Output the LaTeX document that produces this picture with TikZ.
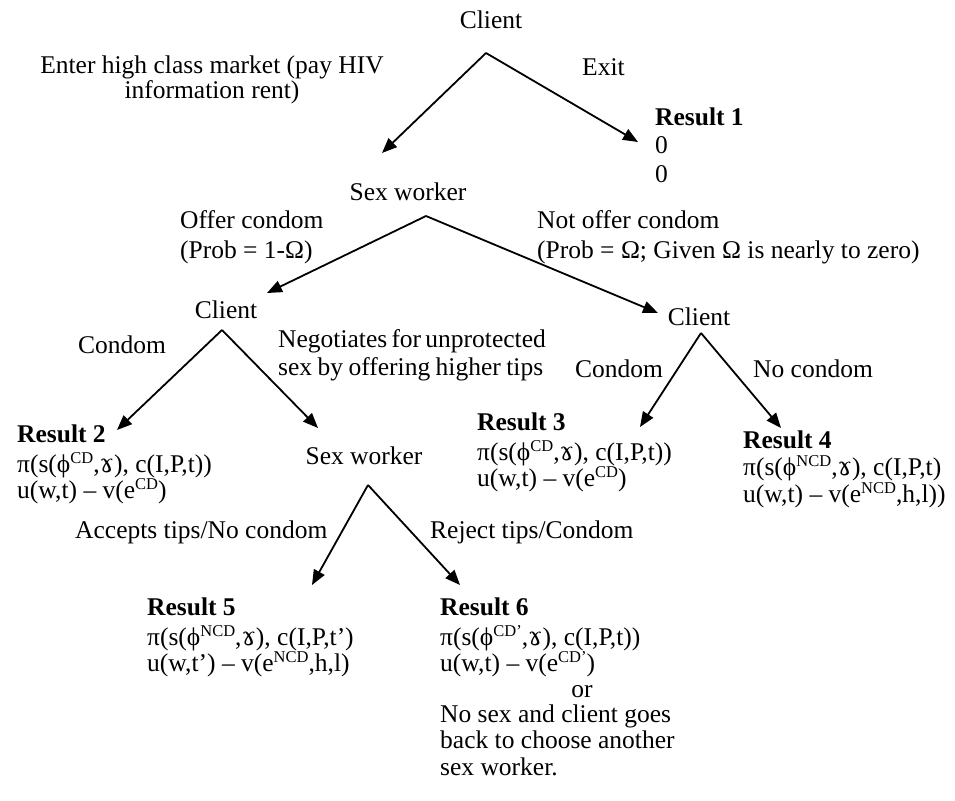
\documentclass[tikz,border=0pt]{standalone}
\usepackage{fontspec}
\setmainfont{Liberation Serif}
\newfontfamily\symfont{DejaVu Serif}
\usetikzlibrary{arrows.meta}

% glyphs used in the payoff formulas
\newcommand{\ph}{ϕ}
\newcommand{\ram}{{\symfont ɤ}}
\newcommand{\sps}[1]{\raisebox{8.5pt}{\fontsize{16.5}{16.5}\selectfont #1}}

\tikzset{
  lbl/.style={inner sep=0pt, anchor=base west, font=\fontsize{25.5}{28}\selectfont},
  lblc/.style={lbl, anchor=base},
  hdr/.style={lbl, font=\fontsize{25.5}{28}\selectfont\bfseries},
  branch/.style={line width=1.8pt, -{Triangle[length=15pt,width=12pt]}},
}

\begin{document}
\begin{tikzpicture}[x=1pt, y=-1pt]
\useasboundingbox (0,0) rectangle (955,800);

% ---- first move: the client
\node[lblc] (c0) at (491,29) {Client};
\node[lblc] (enter1) at (212,74) {Enter high class market (pay HIV};
\node[lblc] (enter2) at (212,98) {information rent)};
\node[lbl] (exit) at (582,75) {Exit};
\node[hdr] (r1) at (655,125) {Result 1};
\node[lbl] (r1a) at (655,153) {0};
\node[lbl] (r1b) at (655,182) {0};

% ---- sex worker offers (or not) a condom
\node[lblc] (sw1) at (408,200) {Sex worker};
\node[lbl] (off1) at (180,228) {Offer condom};
\node[lbl] (off2) at (180,258) {(Prob = 1-Ω)};
\node[lbl] (noff1) at (537,228) {Not offer condom};
\node[lbl] (noff2) at (537,258) {(Prob = Ω; Given Ω is nearly to zero)};

% ---- client responses
\node[lblc] (c1) at (226,318) {Client};
\node[lblc] (c2) at (699,325) {Client};
\node[lbl] (cd1) at (78,353) {Condom};
\node[lbl] (neg1) at (278,347) {\makebox[265pt][s]{Negotiates for unprotected}};
\node[lbl] (neg2) at (278,375) {\makebox[265pt][s]{sex by offering higher tips}};
\node[lbl] (cd2) at (575,377) {Condom};
\node[lbl] (ncd) at (753,377) {No condom};

% ---- results 2, 3, 4
\node[hdr] (r2) at (17,442) {Result 2};
\node[lbl] (r2a) at (17,472) {π(s(\ph\sps{CD},\ram), c(I,P,t))};
\node[lbl] (r2b) at (17,498) {u(w,t) – v(e\sps{CD})};

\node[lblc] (sw2) at (364,464) {Sex worker};

\node[hdr] (r3) at (477,430) {Result 3};
\node[lbl] (r3a) at (477,460) {π(s(\ph\sps{CD},\ram), c(I,P,t))};
\node[lbl] (r3b) at (477,486) {u(w,t) – v(e\sps{CD})};

\node[hdr] (r4) at (743,448) {Result 4};
\node[lbl] (r4a) at (743,475) {π(s(\ph\sps{NCD},\ram), c(I,P,t)};
\node[lbl] (r4b) at (743,502) {u(w,t) – v(e\sps{NCD},h,l))};

% ---- sex worker answers the tip offer
\node[lbl] (acc) at (75,538) {Accepts tips/No condom};
\node[lbl] (rej) at (430,538) {Reject tips/Condom};

\node[hdr] (r5) at (147,615) {Result 5};
\node[lbl] (r5a) at (147,645) {π(s(\ph\sps{NCD},\ram), c(I,P,t’)};
\node[lbl] (r5b) at (147,671) {u(w,t’) – v(e\sps{NCD},h,l)};

\node[hdr] (r6) at (440,615) {Result 6};
\node[lbl] (r6a) at (440,645) {π(s(\ph\sps{CD’},\ram), c(I,P,t))};
\node[lbl] (r6b) at (440,671) {u(w,t) – v(e\sps{CD’})};
\node[lblc] (r6or) at (582,697) {or};
\node[lbl] (r6c) at (440,722) {No sex and client goes};
\node[lbl] (r6d) at (440,748) {back to choose another};
\node[lbl] (r6e) at (440,775) {sex worker.};

% ---- branch points and arrow ends
\coordinate (p0) at (486,53);
\coordinate (t0l) at (382,153);
\coordinate (t0r) at (638,142);
\coordinate (p1) at (426,216);
\coordinate (t1l) at (267,293);
\coordinate (t1r) at (658,313);
\coordinate (p2) at (222,330);
\coordinate (t2l) at (117,430);
\coordinate (t2r) at (318,428);
\coordinate (p3) at (701,333);
\coordinate (t3l) at (640,427);
\coordinate (t3r) at (781,428);
\coordinate (p4) at (368,485);
\coordinate (t4l) at (312,585);
\coordinate (t4r) at (460,585);

\draw[branch] (p0) -- (t0l);
\draw[branch] (p0) -- (t0r);
\draw[branch] (p1) -- (t1l);
\draw[branch] (p1) -- (t1r);
\draw[branch] (p2) -- (t2l);
\draw[branch] (p2) -- (t2r);
\draw[branch] (p3) -- (t3l);
\draw[branch] (p3) -- (t3r);
\draw[branch] (p4) -- (t4l);
\draw[branch] (p4) -- (t4r);
\end{tikzpicture}
\end{document}
